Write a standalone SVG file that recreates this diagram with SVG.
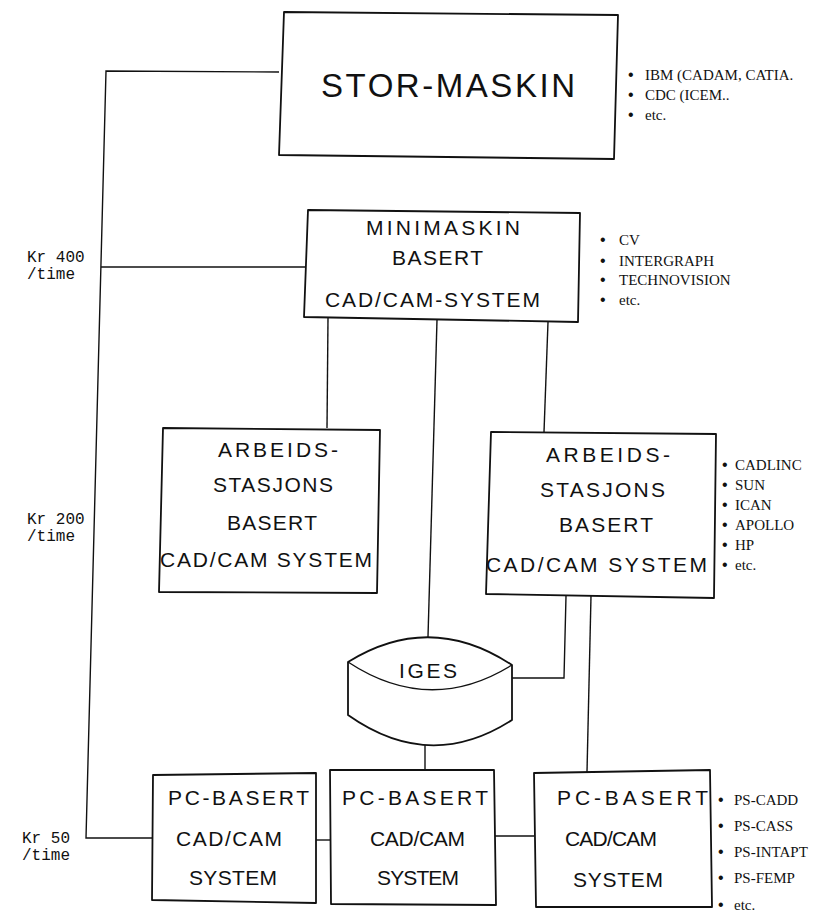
<svg xmlns="http://www.w3.org/2000/svg" width="828" height="924" viewBox="0 0 828 924">
<style>
.bx{fill:#fff;stroke:#111;stroke-width:1.8;stroke-linejoin:round}
.ln{fill:none;stroke:#111;stroke-width:1.4}
.t{font-family:"Liberation Sans","DejaVu Sans",sans-serif;font-size:21px;fill:#111}
.big{font-size:33px}
.s{font-family:"Liberation Serif","DejaVu Serif",serif;font-size:15px;fill:#111}
.m{font-family:"Liberation Mono","DejaVu Sans Mono",monospace;font-size:16px;fill:#111}
.b{font-family:"Liberation Sans","DejaVu Sans",sans-serif;font-size:16px;fill:#111}
</style>
<rect width="828" height="924" fill="#fff"/>
<g id="connectors">
<polyline class="ln" points="279,72 106,71 86,838 153,838"/>
<line class="ln" x1="101" y1="267" x2="306" y2="267"/>
<line class="ln" x1="328" y1="318" x2="327" y2="428"/>
<line class="ln" x1="437" y1="320" x2="428" y2="637"/>
<line class="ln" x1="548" y1="322" x2="544" y2="432"/>
<polyline class="ln" points="566,596 564,678 512,678"/>
<line class="ln" x1="591" y1="596" x2="587" y2="772"/>
<line class="ln" x1="425" y1="745" x2="425" y2="770"/>
<line class="ln" x1="316" y1="840" x2="330" y2="840"/>
<line class="ln" x1="494" y1="836" x2="534" y2="836"/>
</g>
<g id="stor">
<polygon class="bx" points="284,12 618,15 614,159 279,155"/>
<text class="t big" x="321" y="97" textLength="254" lengthAdjust="spacing">STOR-MASKIN</text>
<text class="b" x="628" y="80">•</text><text class="s" x="645" y="80">IBM (CADAM, CATIA.</text>
<text class="b" x="628" y="100">•</text><text class="s" x="645" y="100">CDC (ICEM..</text>
<text class="b" x="628" y="120">•</text><text class="s" x="645" y="120">etc.</text>
</g>
<g id="mini">
<polygon class="bx" points="308,210 580,213 578,322 304,317"/>
<text class="t" x="366" y="235" textLength="154" lengthAdjust="spacing">MINIMASKIN</text>
<text class="t" x="392" y="265" textLength="91" lengthAdjust="spacing">BASERT</text>
<text class="t" x="325" y="307" textLength="215" lengthAdjust="spacing">CAD/CAM-SYSTEM</text>
<text class="b" x="600" y="245">•</text><text class="s" x="619" y="245">CV</text>
<text class="b" x="600" y="266">•</text><text class="s" x="619" y="266">INTERGRAPH</text>
<text class="b" x="600" y="285">•</text><text class="s" x="619" y="285">TECHNOVISION</text>
<text class="b" x="600" y="305">•</text><text class="s" x="619" y="305">etc.</text>
</g>
<g id="arb1">
<polygon class="bx" points="163,428 380,430 377,593 159,592"/>
<text class="t" x="218" y="457" textLength="120" lengthAdjust="spacing">ARBEIDS-</text>
<text class="t" x="213" y="492" textLength="120" lengthAdjust="spacing">STASJONS</text>
<text class="t" x="227" y="530" textLength="90" lengthAdjust="spacing">BASERT</text>
<text class="t" x="160" y="567" textLength="212" lengthAdjust="spacing">CAD/CAM SYSTEM</text>
</g>
<g id="arb2">
<polygon class="bx" points="491,432 716,434 714,598 486,594"/>
<text class="t" x="546" y="462" textLength="124" lengthAdjust="spacing">ARBEIDS-</text>
<text class="t" x="540" y="497" textLength="125" lengthAdjust="spacing">STASJONS</text>
<text class="t" x="559" y="532" textLength="94" lengthAdjust="spacing">BASERT</text>
<text class="t" x="486" y="572" textLength="221" lengthAdjust="spacing">CAD/CAM SYSTEM</text>
<text class="b" x="722" y="470">•</text><text class="s" x="735" y="470">CADLINC</text>
<text class="b" x="722" y="490">•</text><text class="s" x="735" y="490">SUN</text>
<text class="b" x="722" y="510">•</text><text class="s" x="735" y="510">ICAN</text>
<text class="b" x="722" y="530">•</text><text class="s" x="735" y="530">APOLLO</text>
<text class="b" x="722" y="550">•</text><text class="s" x="735" y="550">HP</text>
<text class="b" x="722" y="570">•</text><text class="s" x="735" y="570">etc.</text>
</g>
<g id="iges">
<path class="bx" d="M348,662 L348,715 Q430,773 512,720 L512,665 Q430,611 348,662 Z"/>
<path class="ln" d="M348,662 Q430,716 512,665" stroke-width="1.8"/>
<text class="t" x="399" y="678" textLength="58" lengthAdjust="spacing">IGES</text>
</g>
<g id="pc1">
<polygon class="bx" points="153,775 316,773 316,903 152,900"/>
<text class="t" x="168" y="805" textLength="141" lengthAdjust="spacing">PC-BASERT</text>
<text class="t" x="176" y="846" textLength="106" lengthAdjust="spacing">CAD/CAM</text>
<text class="t" x="189" y="885" textLength="88" lengthAdjust="spacing">SYSTEM</text>
</g>
<g id="pc2">
<polygon class="bx" points="330,770 494,770 496,905 331,904"/>
<text class="t" x="342" y="805" textLength="146" lengthAdjust="spacing">PC-BASERT</text>
<text class="t" x="370" y="846" textLength="95" lengthAdjust="spacing">CAD/CAM</text>
<text class="t" x="377" y="885" textLength="82" lengthAdjust="spacing">SYSTEM</text>
</g>
<g id="pc3">
<polygon class="bx" points="534,773 710,770 712,907 536,907"/>
<text class="t" x="557" y="805" textLength="151" lengthAdjust="spacing">PC-BASERT</text>
<text class="t" x="565" y="846" textLength="92" lengthAdjust="spacing">CAD/CAM</text>
<text class="t" x="573" y="887" textLength="90" lengthAdjust="spacing">SYSTEM</text>
<text class="b" x="718" y="805">•</text><text class="s" x="734" y="805">PS-CADD</text>
<text class="b" x="718" y="831">•</text><text class="s" x="734" y="831">PS-CASS</text>
<text class="b" x="718" y="857">•</text><text class="s" x="734" y="857">PS-INTAPT</text>
<text class="b" x="718" y="883">•</text><text class="s" x="734" y="883">PS-FEMP</text>
<text class="b" x="718" y="910">•</text><text class="s" x="734" y="910">etc.</text>
</g>
<g id="labels">
<text class="m" x="27" y="262">Kr 400</text>
<text class="m" x="27" y="279">/time</text>
<text class="m" x="27" y="524">Kr 200</text>
<text class="m" x="27" y="541">/time</text>
<text class="m" x="22" y="843">Kr  50</text>
<text class="m" x="22" y="860">/time</text>
</g>
</svg>
